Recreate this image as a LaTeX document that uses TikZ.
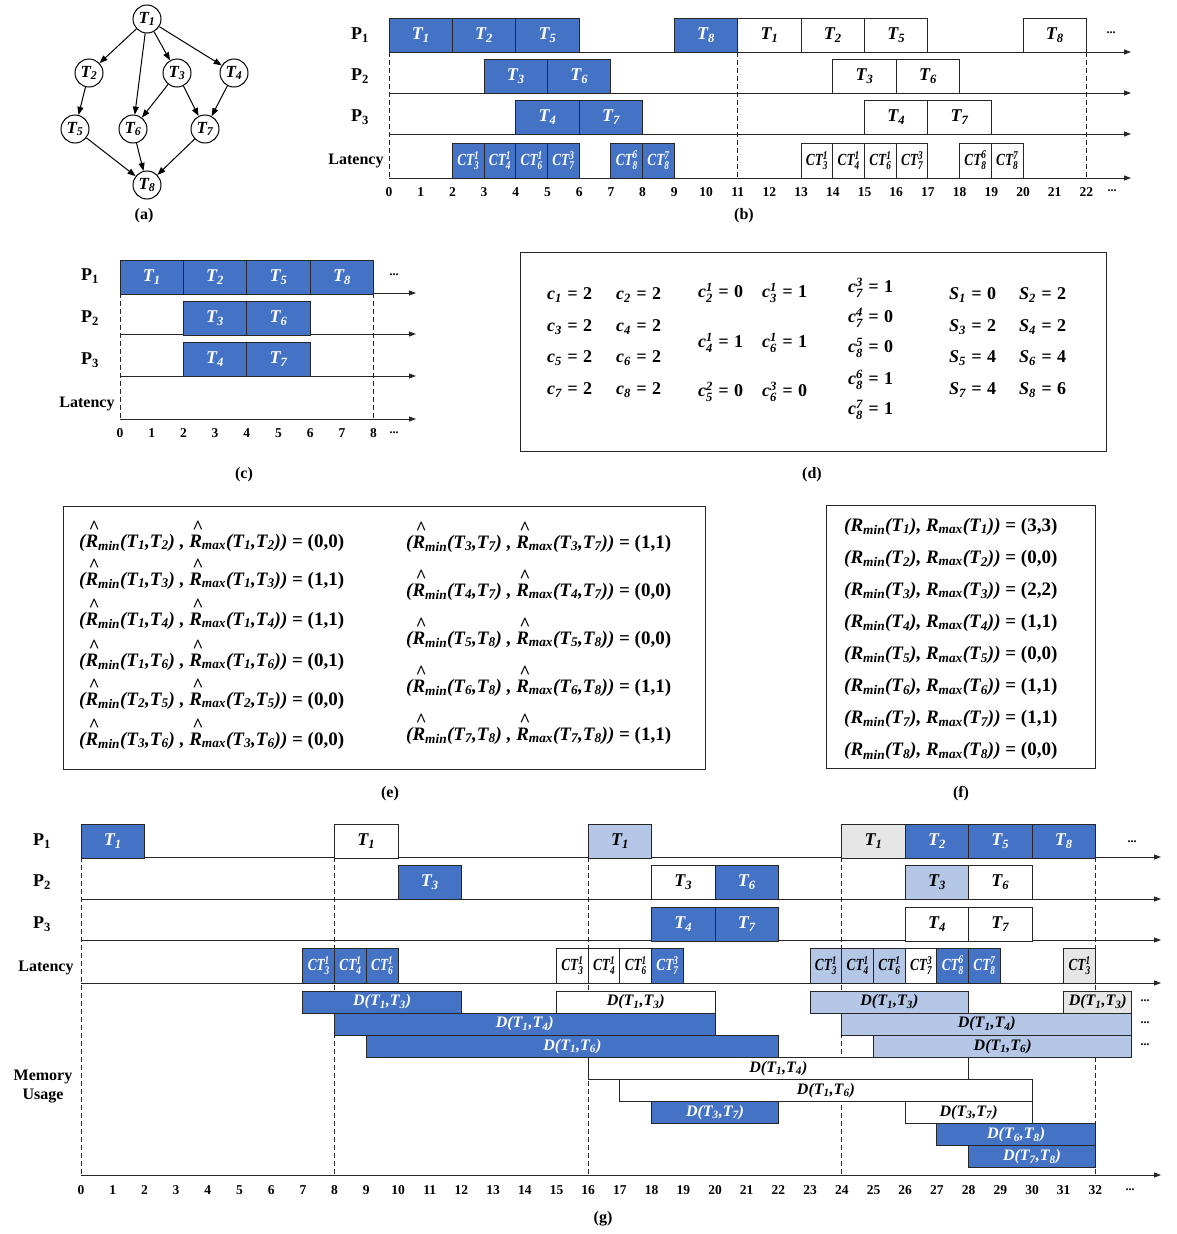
\documentclass[tikz,border=0pt]{standalone}
\usepackage{fontspec}
\setmainfont{Liberation Serif}
\usepackage{amsmath}
\usetikzlibrary{arrows.meta,positioning}

\definecolor{tblue}{HTML}{4472C4}
\definecolor{tlight}{HTML}{B4C7E7}
\definecolor{tgray}{HTML}{E7E6E6}
\definecolor{tline}{HTML}{262626}

\newcommand\tslot{31.7}
\newcommand\fs[1]{\fontsize{#1}{#1}\selectfont}
\newcommand\tk[1]{T\textsubscript{#1}}
\newcommand\ct[2]{\scalebox{.78}[1]{CT$^{\text{#2}}_{\text{#1}}$}}
\newcommand\dd[2]{D(\tk{#1},\tk{#2})}
\newcommand\rh{\rlap{\raisebox{.72em}{\kern.16em\symbol{"5E}}}R}
\newcommand\eq{\hspace{.3em}=\hspace{.3em}}

\begin{document}
\begin{tikzpicture}[x=1pt, y=-1pt, >={Triangle[length=8pt,width=6pt]},
  every node/.style={font=\bfseries},
  tnode/.style={draw, circle, line width=1pt, minimum size=28pt, inner sep=0pt, font=\fs{17}\bfseries\itshape},
  dep/.style={->, line width=1pt},
  task/.style={draw=tline, line width=1pt, rectangle, inner sep=0pt, outer sep=0pt, anchor=north west,
    minimum width={(#1)*\tslot pt}, minimum height=34pt, font=\fs{18}\bfseries\itshape},
  bluebar/.style={fill=tblue, text=white},
  whitebar/.style={fill=white, text=black},
  lightbar/.style={fill=tlight, text=black},
  graybar/.style={fill=tgray, text=black},
  timeaxis/.style={draw=tline, line width=.9pt, -{Triangle[length=7pt,width=5pt]}},
  vdash/.style={draw=tline, line width=.8pt, dash pattern=on 5pt off 3pt},
  sublabel/.style={font=\fs{16}\bfseries},
  plab/.style={font=\fs{18}\bfseries},
  latlab/.style={font=\fontsize{16}{19}\selectfont\bfseries},
  ticknum/.style={font=\fs{13.5}\bfseries},
  more/.style={font=\fs{12}\bfseries},
  framebox/.style={draw=tline, line width=1pt, inner sep=0pt, anchor=north west},
  dtxt/.style={font=\fs{18}\bfseries\itshape, anchor=west, inner sep=0pt},
  etxt/.style={font=\fs{19}\bfseries\itshape, anchor=base west, inner sep=0pt}]
\useasboundingbox (0,0) rectangle (1177,1234);

% (a) task graph
\node[tnode] (T1) at (147,19) {\tk1};
\node[tnode] (T2) at (89,73) {\tk2};
\node[tnode] (T3) at (177,73) {\tk3};
\node[tnode] (T4) at (234,73) {\tk4};
\node[tnode] (T5) at (75,129) {\tk5};
\node[tnode] (T6) at (133,129) {\tk6};
\node[tnode] (T7) at (205,129) {\tk7};
\node[tnode] (T8) at (147,185) {\tk8};
\foreach \a/\b in {1/2,1/6,1/3,1/4,2/5,3/6,3/7,4/7,5/8,6/8,7/8}
  \draw[dep] (T\a) -- (T\b);
\node[sublabel] (capa) at (144,216) {(a)};

% (b) two periods
\foreach \y [count=\i] in {52,93,134,178} {
  \coordinate (bs\i) at (389,\y); \coordinate (be\i) at (1131,\y);
  \draw[timeaxis] (bs\i) -- (be\i);}
\foreach \k in {0,11,22} {
  \coordinate (bt\k) at (389+\k*\tslot,52); \coordinate (bb\k) at (389+\k*\tslot,178);
  \draw[vdash] (bt\k) -- (bb\k);}
\begin{scope}[xshift=389pt, x=\tslot pt]
  \foreach \s/\e/\l/\f [count=\i] in {0/2/1/bluebar, 2/4/2/bluebar, 4/6/5/bluebar, 9/11/8/bluebar,
      11/13/1/whitebar, 13/15/2/whitebar, 15/17/5/whitebar, 20/22/8/whitebar}
    \node[task=\e-\s, \f] (b1-\i) at (\s,18) {\tk\l};
  \foreach \s/\e/\l/\f [count=\i] in {3/5/3/bluebar, 5/7/6/bluebar, 14/16/3/whitebar, 16/18/6/whitebar}
    \node[task=\e-\s, \f] (b2-\i) at (\s,59) {\tk\l};
  \foreach \s/\e/\l/\f [count=\i] in {4/6/4/bluebar, 6/8/7/bluebar, 15/17/4/whitebar, 17/19/7/whitebar}
    \node[task=\e-\s, \f] (b3-\i) at (\s,100) {\tk\l};
  \foreach \s/\a/\b/\f [count=\i] in {2/3/1/bluebar, 3/4/1/bluebar, 4/6/1/bluebar, 5/7/3/bluebar,
      7/8/6/bluebar, 8/8/7/bluebar, 13/3/1/whitebar, 14/4/1/whitebar, 15/6/1/whitebar,
      16/7/3/whitebar, 18/8/6/whitebar, 19/8/7/whitebar}
    \node[task=1, \f, minimum height=35pt, font=\fs{17}\bfseries\itshape] (b4-\i) at (\s,143) {\ct\a\b};
\end{scope}
\foreach \k in {0,...,22}
  \node[ticknum] (bn\k) at (389+\k*\tslot,192) {\k};
\node[more] (bd1) at (1111,33) {...};
\node[more] (bd2) at (1112,191) {...};
\node[plab] (bP1) at (360,35) {P\textsubscript{1}};
\node[plab] (bP2) at (360,76) {P\textsubscript{2}};
\node[plab] (bP3) at (360,117) {P\textsubscript{3}};
\node[latlab] (bL) at (356,161) {Latency};
\node[sublabel] (capb) at (744,216) {(b)};

% (c) one period
\foreach \y [count=\i] in {293,334,376,419} {
  \coordinate (cs\i) at (120,\y); \coordinate (ce\i) at (416,\y);
  \draw[timeaxis] (cs\i) -- (ce\i);}
\foreach \k in {0,8} {
  \coordinate (ct\k) at (120+\k*\tslot,293); \coordinate (cb\k) at (120+\k*\tslot,419);
  \draw[vdash] (ct\k) -- (cb\k);}
\begin{scope}[xshift=120pt, x=\tslot pt]
  \foreach \s/\l [count=\i] in {0/1, 2/2, 4/5, 6/8}
    \node[task=2, bluebar] (c1-\i) at (\s,260) {\tk\l};
  \foreach \s/\l [count=\i] in {2/3, 4/6}
    \node[task=2, bluebar] (c2-\i) at (\s,301) {\tk\l};
  \foreach \s/\l [count=\i] in {2/4, 4/7}
    \node[task=2, bluebar] (c3-\i) at (\s,342) {\tk\l};
\end{scope}
\foreach \k in {0,...,8}
  \node[ticknum] (cn\k) at (120+\k*\tslot,433) {\k};
\node[more] (cd1) at (394,275) {...};
\node[more] (cd2) at (394,433) {...};
\node[plab] (cP1) at (90,276) {P\textsubscript{1}};
\node[plab] (cP2) at (90,318) {P\textsubscript{2}};
\node[plab] (cP3) at (90,360) {P\textsubscript{3}};
\node[latlab] (cL) at (87,404) {Latency};
\node[sublabel] (capc) at (244,475) {(c)};

% (d) parameters
\node[framebox, minimum width=586pt, minimum height=199pt] (dbox) at (520,252) {};
\foreach \k/\x/\y in {1/547/295, 2/616/295, 3/547/327, 4/616/327, 5/547/358, 6/616/358, 7/547/390, 8/616/390}
  \node[dtxt] (dc\k) at (\x,\y) {c\textsubscript{\k}\eq\textup{2}};
\foreach \a/\b/\v/\x/\y [count=\i] in {2/1/0/698/293, 3/1/1/762/293, 4/1/1/698/343, 6/1/1/762/343,
    5/2/0/698/392, 6/3/0/762/392, 7/3/1/848/288, 7/4/0/848/318, 8/5/0/848/348, 8/6/1/848/380, 8/7/1/848/410}
  \node[dtxt] (dr\i) at (\x,\y) {c$^{\text{\b}}_{\text{\a}}$\eq\textup{\v}};
\foreach \k/\v/\x/\y in {1/0/949/295, 2/2/1019/295, 3/2/949/327, 4/2/1019/327,
    5/4/949/358, 6/4/1019/358, 7/4/949/390, 8/6/1019/390}
  \node[dtxt] (ds\k) at (\x,\y) {S\textsubscript{\k}\eq\textup{\v}};
\node[sublabel] (capd) at (812,475) {(d)};

% (e) edge bounds
\node[framebox, minimum width=642pt, minimum height=263pt] (ebox) at (63,506) {};
\foreach \a/\b/\p/\q/\x/\y [count=\i] in {1/2/0/0/79/547, 1/3/1/1/79/585, 1/4/1/1/79/625, 1/6/0/1/79/666,
    2/5/0/0/79/705, 3/6/0/0/79/745, 3/7/1/1/406/548, 4/7/0/0/406/596, 5/8/0/0/406/644,
    6/8/1/1/406/692, 7/8/1/1/406/740}
  \node[etxt] (e\i) at (\x,\y) {(\rh\textsubscript{min}(\tk\a,\tk\b) , \rh\textsubscript{max}(\tk\a,\tk\b)) \textup{= (\p,\q)}};
\node[sublabel] (cape) at (390,794) {(e)};

% (f) task bounds
\node[framebox, minimum width=269pt, minimum height=263pt] (fbox) at (826,505) {};
\foreach \k/\p in {1/3, 2/0, 3/2, 4/1, 5/0, 6/1, 7/1, 8/0}
  \node[etxt] (f\k) at (844,499+32.1*\k) {(R\textsubscript{min}(\tk\k), R\textsubscript{max}(\tk\k)) \textup{= (\p,\p)}};
\node[sublabel] (capf) at (961,794) {(f)};

% (g) schedule with memory usage
\foreach \y [count=\i] in {857,899,940,983,1175} {
  \coordinate (gs\i) at (81,\y); \coordinate (ge\i) at (1161,\y);
  \draw[timeaxis] (gs\i) -- (ge\i);}
\foreach \k in {0,8,16,24,32} {
  \coordinate (gt\k) at (81+\k*\tslot,857); \coordinate (gb\k) at (81+\k*\tslot,1175);
  \draw[vdash] (gt\k) -- (gb\k);}
\begin{scope}[xshift=81pt, x=\tslot pt]
  \foreach \s/\l/\f [count=\i] in {0/1/bluebar, 8/1/whitebar, 16/1/lightbar, 24/1/graybar,
      26/2/bluebar, 28/5/bluebar, 30/8/bluebar}
    \node[task=2, \f] (g1-\i) at (\s,824) {\tk\l};
  \foreach \s/\l/\f [count=\i] in {10/3/bluebar, 18/3/whitebar, 20/6/bluebar, 26/3/lightbar, 28/6/whitebar}
    \node[task=2, \f] (g2-\i) at (\s,865) {\tk\l};
  \foreach \s/\l/\f [count=\i] in {18/4/bluebar, 20/7/bluebar, 26/4/whitebar, 28/7/whitebar}
    \node[task=2, \f] (g3-\i) at (\s,907) {\tk\l};
  \foreach \s/\a/\b/\f [count=\i] in {7/3/1/bluebar, 8/4/1/bluebar, 9/6/1/bluebar,
      15/3/1/whitebar, 16/4/1/whitebar, 17/6/1/whitebar, 18/7/3/bluebar,
      23/3/1/lightbar, 24/4/1/lightbar, 25/6/1/lightbar, 26/7/3/whitebar,
      27/8/6/bluebar, 28/8/7/bluebar, 31/3/1/graybar}
    \node[task=1, \f, minimum height=35pt, font=\fs{17}\bfseries\itshape] (g4-\i) at (\s,948) {\ct\a\b};
  \foreach \s/\e/\a/\b/\r/\f [count=\i] in {7/12/1/3/1/bluebar, 15/20/1/3/1/whitebar,
      23/28/1/3/1/lightbar, 31/33.15/1/3/1/graybar, 8/20/1/4/2/bluebar, 24/33.15/1/4/2/lightbar,
      9/22/1/6/3/bluebar, 25/33.15/1/6/3/lightbar, 16/28/1/4/4/whitebar, 17/30/1/6/5/whitebar,
      18/22/3/7/6/bluebar, 26/30/3/7/6/whitebar, 27/32/6/8/7/bluebar, 28/32/7/8/8/bluebar}
    \node[task=\e-\s, \f, minimum height=22pt, font=\fs{16}\bfseries\itshape] (gm-\i) at (\s,991+22.1*\r-22.1) {\dd\a\b};
\end{scope}
\foreach \k in {0,...,32}
  \node[ticknum] (gn\k) at (81+\k*\tslot,1190) {\k};
\node[more] (gd1) at (1132,842) {...};
\foreach \y [count=\i] in {1001,1023,1045}
  \node[more] (gd\i m) at (1145,\y) {...};
\node[more] (gd5) at (1130,1190) {...};
\node[plab] (gP1) at (42,841) {P\textsubscript{1}};
\node[plab] (gP2) at (42,882) {P\textsubscript{2}};
\node[plab] (gP3) at (42,924) {P\textsubscript{3}};
\node[latlab] (gL) at (46,968) {Latency};
\node[latlab, align=center] (gM) at (43,1087) {Memory\\Usage};
\node[sublabel] (capg) at (603,1219) {(g)};
\end{tikzpicture}
\end{document}
